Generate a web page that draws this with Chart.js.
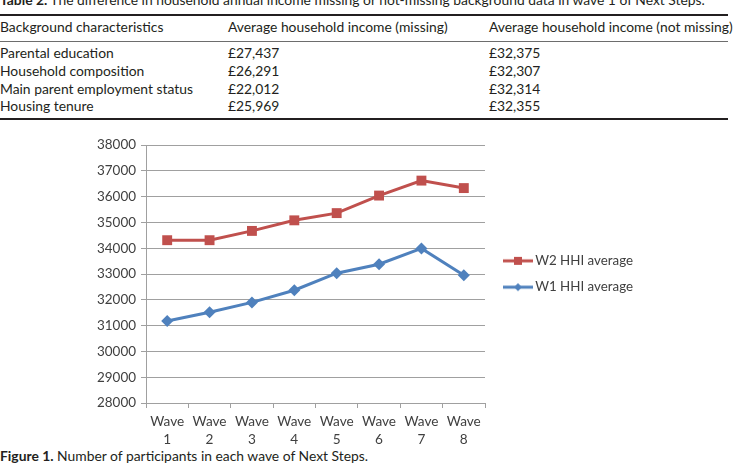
<!DOCTYPE html>
<html>
<head>
<meta charset="utf-8">
<script src="https://cdn.jsdelivr.net/npm/chart.js@4/dist/chart.umd.min.js"></script>
<style>
html,body{margin:0;padding:0;background:#fff;overflow:hidden}
body{width:740px;height:466px;position:relative;color:#231f20}
.t{position:absolute;white-space:nowrap;line-height:1}
.rule{position:absolute;left:0;width:728px;background:#231f20}
#wrap{position:absolute;left:0;top:130px;width:740px;height:320px}
</style>
</head>
<body>
<div id="content"></div>
<div id="wrap"><canvas id="c" width="740" height="320"></canvas></div>
<script>
// ---- data ----
const tableTitleBold = "Table 2.";
const tableTitleText = " The difference in household annual income missing or not-missing background data in wave 1 of Next Steps.";
const tableHeaders = ["Background characteristics", "Average household income (missing)", "Average household income (not missing)"];
const rowLabels = ["Parental education", "Household composition", "Main parent employment status", "Housing tenure"];
const incomeMissing = ["£27,437", "£26,291", "£22,012", "£25,969"];
const incomeNotMissing = ["£32,375", "£32,307", "£32,314", "£32,355"];

const waveLabels = [["Wave","1"],["Wave","2"],["Wave","3"],["Wave","4"],["Wave","5"],["Wave","6"],["Wave","7"],["Wave","8"]];
const seriesNames = ["W2 HHI average", "W1 HHI average"];
const w2Average = [34310, 34310, 34670, 35080, 35360, 36040, 36620, 36330];
const w1Average = [31180, 31520, 31900, 32370, 33030, 33380, 33990, 32950];
const yMin = 28000, yMax = 38000, yStep = 1000;

const captionBold = "Figure 1.";
const captionText = " Number of participants in each wave of Next Steps.";

// ---- helpers ----
const FAM = "Lato, 'Open Sans', sans-serif";
const mctx = document.createElement('canvas').getContext('2d');
function fit(text, target, weight){
  mctx.font = (weight||'normal') + " 100px " + FAM;
  return 100 * target / mctx.measureText(text).width;
}
const content = document.getElementById('content');
function addText(html, x, cy, size){
  const d = document.createElement('div');
  d.className = 't';
  d.style.left = x + 'px';
  d.style.top = (cy - size*0.55) + 'px';
  d.style.fontSize = size + 'px';
  d.style.fontFamily = FAM;
  d.innerHTML = html;
  content.appendChild(d);
}
function addRule(y, h, color){
  const d = document.createElement('div');
  d.className = 'rule';
  d.style.top = y + 'px';
  d.style.height = h + 'px';
  d.style.background = color;
  content.appendChild(d);
}

// ---- table ----
const tSize = fit("Main parent employment status", 193);
const colX = [0, 228, 489];
const rowY = [54, 71.7, 89.3, 107];
addText("<b>" + tableTitleBold + "</b>" + tableTitleText, 0, 1, tSize);
addRule(14, 2, '#231f20');
tableHeaders.forEach((h, i) => addText(h, colX[i], 28, tSize));
addRule(40.5, 1.3, '#6d6d6d');
rowLabels.forEach((r, i) => {
  addText(r, colX[0], rowY[i], tSize);
  addText(incomeMissing[i], colX[1], rowY[i], tSize);
  addText(incomeNotMissing[i], colX[2], rowY[i], tSize);
});
addRule(118, 2, '#231f20');
addText("<b>" + captionBold + "</b>" + captionText, 0, 457, tSize);

// ---- chart ----
const red = '#C0504D', blue = '#4F81BD', gridCol = '#a0a0a0', tickCol = '#404040';
const yFont = fit("38000", 39);
const xFont = fit("Wave", 34);
const lFont = fit("W2 HHI average", 98);

function legendIcon(color, style){
  const c = document.createElement('canvas');
  c.width = 30; c.height = 12;
  const g = c.getContext('2d');
  g.strokeStyle = color; g.lineWidth = 3;
  g.beginPath(); g.moveTo(0, 6); g.lineTo(30, 6); g.stroke();
  g.fillStyle = color;
  g.beginPath();
  if (style === 'rect') { g.rect(11, 2, 8, 8); }
  else { g.moveTo(15, 2); g.lineTo(19, 6); g.lineTo(15, 10); g.lineTo(11, 6); g.closePath(); }
  g.fill();
  return c;
}
const icons = [legendIcon(red, 'rect'), legendIcon(blue, 'rectRot')];

const pad = {left: 0, top: 15, right: 80, bottom: 3};
const chart = new Chart(document.getElementById('c'), {
  type: 'line',
  data: {
    labels: waveLabels,
    datasets: [
      {label: seriesNames[0], data: w2Average, borderColor: red, backgroundColor: red, borderWidth: 3,
       pointStyle: 'rect', pointRadius: 7, pointBorderWidth: 0, pointBackgroundColor: red, tension: 0},
      {label: seriesNames[1], data: w1Average, borderColor: blue, backgroundColor: blue, borderWidth: 3,
       pointStyle: 'rectRot', pointRadius: 6, pointBorderWidth: 0, pointBackgroundColor: blue, tension: 0}
    ]
  },
  options: {
    responsive: false,
    animation: false,
    layout: {padding: pad},
    plugins: {
      tooltip: {enabled: false},
      legend: {
        position: 'right',
        fullSize: false,
        maxWidth: 220,
        labels: {
          usePointStyle: true,
          pointStyleWidth: 21,
          padding: 13,
          color: tickCol,
          font: {family: FAM, size: lFont},
          generateLabels: (ch) => ch.data.datasets.map((ds, i) => ({
            text: ds.label, pointStyle: icons[i], fillStyle: ds.borderColor, strokeStyle: ds.borderColor,
            lineWidth: 0, hidden: false, datasetIndex: i, fontColor: tickCol
          }))
        }
      }
    },
    scales: {
      x: {
        offset: true,
        grid: {offset: true, drawOnChartArea: false, drawTicks: true, tickLength: 5, color: gridCol},
        border: {color: gridCol},
        ticks: {font: {family: FAM, size: xFont, lineHeight: 1.35}, color: tickCol, padding: 4, maxRotation: 0, autoSkip: false}
      },
      y: {
        min: yMin, max: yMax,
        ticks: {stepSize: yStep, font: {family: FAM, size: yFont}, color: tickCol, padding: 5, callback: v => String(v)},
        grid: {color: gridCol, tickLength: 5},
        border: {color: gridCol},
        afterFit: s => { s.width = 146; }
      },
      gap: {
        type: 'linear', position: 'right', display: true,
        grid: {display: false}, ticks: {display: false}, border: {display: false},
        afterFit: s => { s.width = 9.5; }
      }
    }
  }
});
function adjust(){
  const a = chart.chartArea;
  const p = chart.config.options.layout.padding;
  p.top += 15 - a.top;
  p.bottom += a.bottom - 273;
  p.right += a.right - 485;
  chart.update('none');
}
adjust(); adjust();
</script>
</body>
</html>
